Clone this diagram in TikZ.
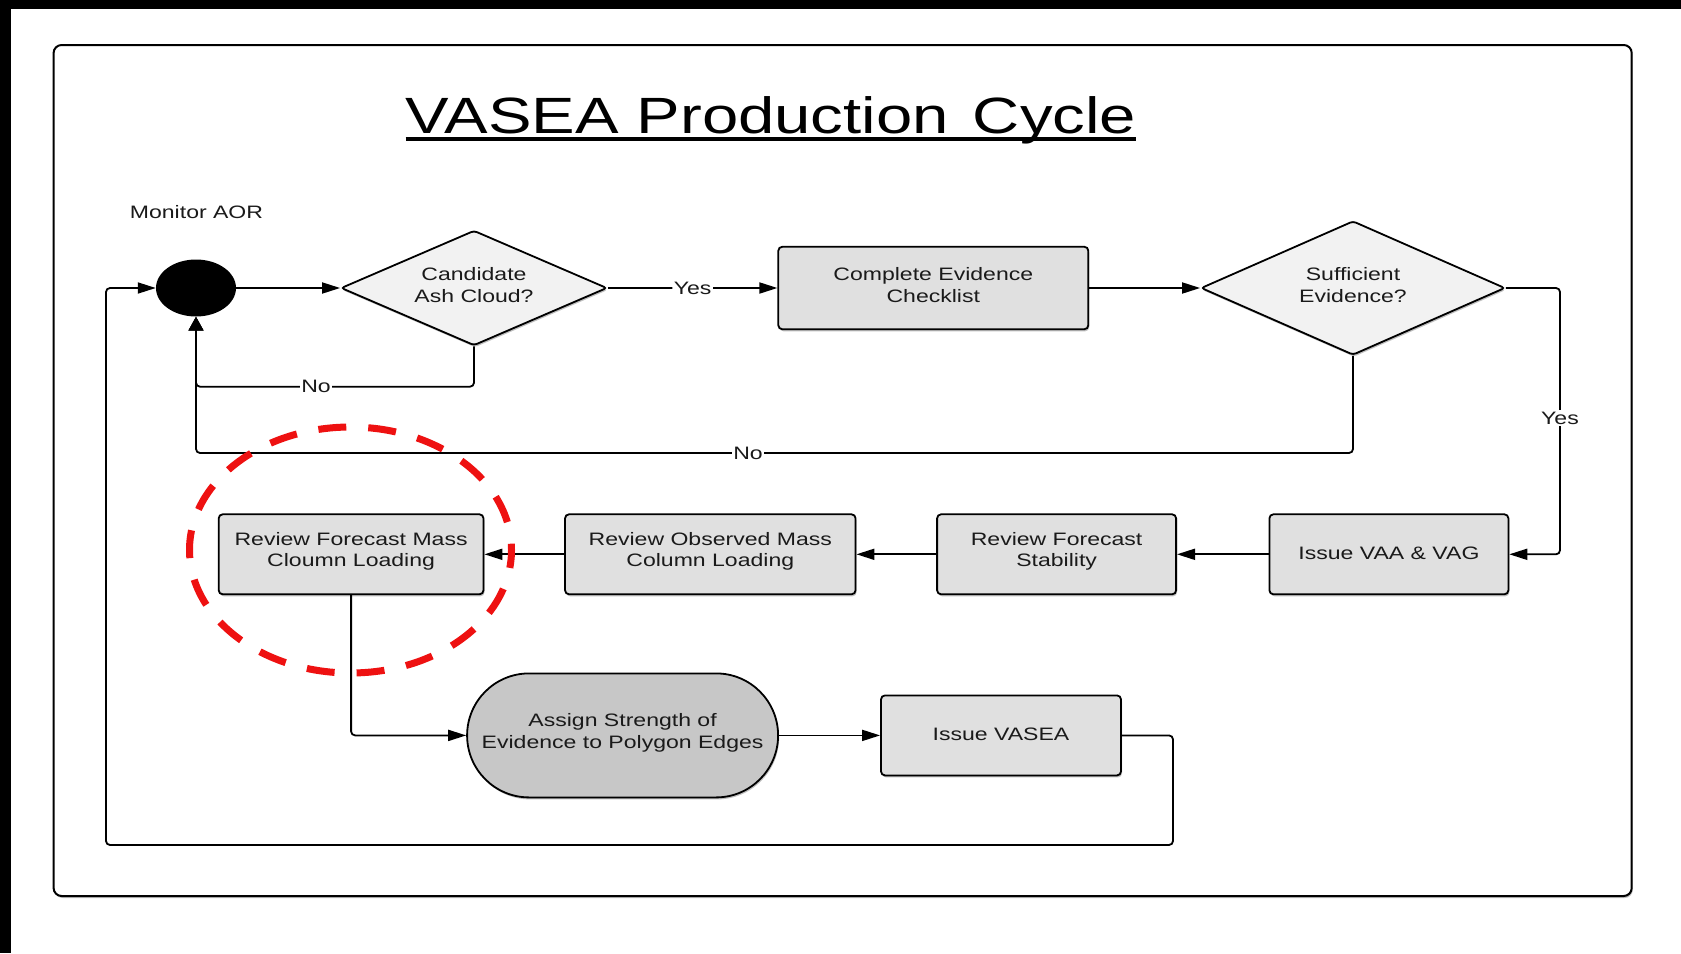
\documentclass[tikz,border=0pt]{standalone}
\usepackage{fontspec}
\setmainfont{Liberation Sans}
\newfontfamily\bodyfont[FakeStretch=1.28]{Liberation Sans}
\newfontfamily\titlefont[FakeStretch=1.28]{Liberation Sans}
\usetikzlibrary{shapes.geometric,shapes.misc,arrows.meta,shadows}

\definecolor{boxgray}{HTML}{E0E0E0}
\definecolor{decgray}{HTML}{F2F2F2}
\definecolor{termgray}{HTML}{C7C7C7}
\definecolor{inkgray}{HTML}{1A1A1A}
\definecolor{markred}{HTML}{EE1111}

% invisible strut that deepens the last line so the text sits a little higher
\newcommand\lowerpad[1]{\rule[-#1]{0pt}{#1}}

\begin{document}
\begin{tikzpicture}[x=1pt,y=-1pt,
  every node/.style={font=\bodyfont\fontsize{18}{21.7}\selectfont, text=inkgray, inner sep=0pt},
  softshadow/.style={drop shadow={shadow xshift=1pt, shadow yshift=-2pt, opacity=0.25, fill=black}},
  proc/.style={draw=black, line width=1.8pt, fill=boxgray, rounded corners=4pt,
    minimum width=#1, minimum height=80pt, align=center, softshadow},
  decision/.style args={#1x#2}{diamond, aspect=2.3, draw=black, line width=1.8pt, fill=decgray,
    rounded corners=3pt, minimum width=#1, minimum height=#2, align=center, softshadow},
  terminal/.style={rounded rectangle, draw=black, line width=1.8pt, fill=termgray,
    minimum width=311pt, minimum height=124pt, align=center, softshadow},
  conn/.style={draw=black, line width=1.8pt, rounded corners=4pt},
  harr/.style={-{Triangle[length=18pt,width=11pt]}},
  varr/.style={-{Triangle[length=14pt,width=15pt]}},
  edgelabel/.style={fill=white, inner sep=1.5pt}
]

% page and frame
\fill[white] (0,0) rectangle (1681,953);
\useasboundingbox (0,0) rectangle (1681,953);
\fill[black] (0,0) rectangle (1681,9);
\fill[black] (0,0) rectangle (11,953);
\draw[line width=2pt, rounded corners=8pt, softshadow, fill=white] (53.6,45) rectangle (1631.7,896);

% title
\node[font=\titlefont\fontsize{51}{60}\selectfont, text=black, anchor=base] (title) at (771,133) {VASEA Production\hspace{6pt} Cycle};
\draw[line width=3.2pt] ([yshift=-6pt]title.base west) -- ([yshift=-6pt]title.base east);

% start state
\node (aor) at (196.5,212) {Monitor AOR};
\node[ellipse, fill=black, minimum width=80pt, minimum height=57pt] (start) at (196,288) {};

% top row
\node[decision=266ptx115pt] (cand) at (474,288) {Candidate\\Ash Cloud?\lowerpad{6pt}};
\node[proc=310pt, minimum height=82.5pt] (check) at (933.3,288) {Complete Evidence\\Checklist\lowerpad{6pt}};
\node[decision=304ptx134pt] (suff) at (1353,288) {Sufficient\\Evidence?\lowerpad{6pt}};

% second row
\node[proc=239pt] (vaa) at (1388.9,554.3) {Issue VAA \& VAG\lowerpad{2pt}};
\node[proc=239pt] (stab) at (1056.6,554.3) {Review Forecast\\Stability\lowerpad{9.5pt}};
\node[proc=290.5pt] (obs) at (710.3,554.3) {Review Observed Mass\\Column Loading\lowerpad{9.5pt}};
\node[proc=264.8pt] (fcst) at (351.1,554.3) {Review Forecast Mass\\Cloumn Loading\lowerpad{9.5pt}};

% third row
\node[terminal] (assign) at (622.6,735.4) {Assign Strength of\\Evidence to Polygon Edges\lowerpad{9.5pt}};
\node[proc=240pt] (vasea) at (1001,735.4) {Issue VASEA\lowerpad{2pt}};

% connectors, top row
\draw[conn, harr] (start.east) -- (cand.west);
\draw[conn, harr] (cand.east) -- node[edgelabel] {Yes} (check.west);
\draw[conn, harr] (check.east) -- (suff.west);
\draw[conn, harr] (suff.east) -| (1560,554.3) -- (vaa.east);
\node[edgelabel] (yeslbl) at (1560,418) {Yes};

% loops back to the start state
\draw[conn, varr] (cand.south) -- (474,386.7) -| (start.south);
\node[edgelabel] (nolbl1) at (316,386.7) {No};
\draw[conn, varr] (suff.south) -- (1353,453) -| (start.south);
\node[edgelabel] (nolbl2) at (748,453) {No};

% connectors, second row
\draw[conn, harr] (vaa.west) -- (stab.east);
\draw[conn, harr] (stab.west) -- (obs.east);
\draw[conn, harr] (obs.west) -- (fcst.east);
\draw[conn, harr] (fcst.south) |- (assign.west);
\draw[conn, harr] (assign.east) -- (vasea.west);
\draw[conn, harr] (vasea.east) -| (1173,845) -| (106,288) -- (start.west);

% highlight ring
\draw[markred, line width=7pt, dash pattern=on 28pt off 22pt, dash phase=10pt]
  (350.5,550) ellipse [x radius=161, y radius=123];

\end{tikzpicture}
\end{document}
